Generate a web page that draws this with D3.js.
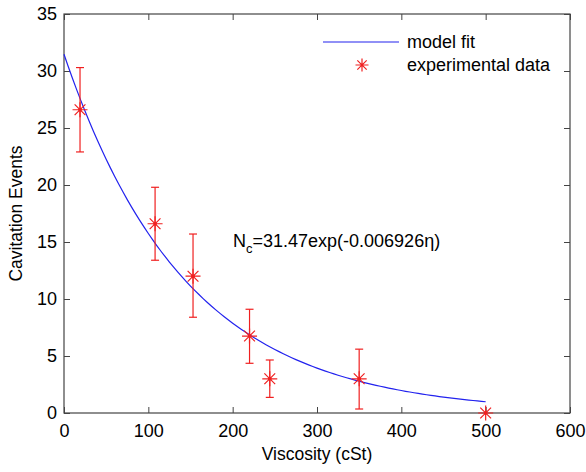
<!DOCTYPE html>
<html>
<head>
<meta charset="utf-8">
<script src="https://cdn.jsdelivr.net/npm/d3@7"></script>
<style>
  body { margin: 0; background: #fff; }
  text { font-family: "Liberation Sans", Arial, sans-serif; fill: #000; }
</style>
</head>
<body>
<div id="chart"></div>
<script>
// values
const viscosity = [19, 108, 153, 220, 244, 350, 500];
const events    = [26.6, 16.6, 12.0, 6.75, 3.0, 3.0, 0];
const errLow    = [22.9, 13.4, 8.4, 4.36, 1.37, 0.35, null];
const errHigh   = [30.3, 19.8, 15.7, 9.1, 4.65, 5.6, null];
const xTicks = [0, 100, 200, 300, 400, 500, 600];
const yTicks = [0, 5, 10, 15, 20, 25, 30, 35];
// fit parameters from the annotation
const fitA = 31.47, fitB = -0.006926;
const fitX = d3.range(0, 501, 5);

const width = 586, height = 472;
const margin = {top: 14, right: 16, bottom: 59, left: 64};

const svg = d3.select("#chart").append("svg")
    .attr("width", width)
    .attr("height", height);

const x = d3.scaleLinear().domain([0, 600]).range([margin.left, width - margin.right]);
const y = d3.scaleLinear().domain([0, 35]).range([height - margin.bottom, margin.top]);

const axisColor = "#444";

// frame
svg.append("rect")
    .attr("x", x(0)).attr("y", y(35))
    .attr("width", x(600) - x(0)).attr("height", y(0) - y(35))
    .attr("fill", "none").attr("stroke", axisColor).attr("stroke-width", 1.2);

function styleAxis(g) {
    g.select(".domain").remove();
    g.selectAll(".tick line").attr("stroke", axisColor);
    g.selectAll(".tick text").style("font-size", "18px").attr("fill", "#000");
}

svg.append("g")
    .attr("transform", `translate(0,${y(0)})`)
    .call(d3.axisBottom(x).tickValues(xTicks).tickSize(-6).tickPadding(11))
    .call(styleAxis);
svg.append("g")
    .attr("transform", `translate(0,${y(35)})`)
    .call(d3.axisTop(x).tickValues(xTicks).tickSize(-6).tickFormat(""))
    .call(styleAxis);
svg.append("g")
    .attr("transform", `translate(${x(0)},0)`)
    .call(d3.axisLeft(y).tickValues(yTicks).tickSize(-6).tickPadding(7))
    .call(styleAxis);
svg.append("g")
    .attr("transform", `translate(${x(600)},0)`)
    .call(d3.axisRight(y).tickValues(yTicks).tickSize(-6).tickFormat(""))
    .call(styleAxis);

// axis labels
svg.append("text")
    .attr("x", (x(0) + x(600)) / 2).attr("y", 460)
    .attr("text-anchor", "middle").style("font-size", "17.5px")
    .text("Viscosity (cSt)");
svg.append("text")
    .attr("transform", `translate(22,${(y(0) + y(35)) / 2}) rotate(-90)`)
    .attr("text-anchor", "middle").style("font-size", "17.5px")
    .text("Cavitation Events");

// model fit
const line = d3.line().x(d => x(d)).y(d => y(fitA * Math.exp(fitB * d)));
svg.append("path")
    .datum(fitX)
    .attr("d", line)
    .attr("fill", "none")
    .attr("stroke", "#2222ee")
    .attr("stroke-width", 1.2);

const red = "#f02020";
const data = viscosity.map((v, i) => ({v, n: events[i], lo: errLow[i], hi: errHigh[i]}));

// error bars
const eb = svg.append("g").attr("stroke", red).attr("stroke-width", 1.2);
data.filter(d => d.lo != null).forEach(d => {
    eb.append("line").attr("x1", x(d.v)).attr("x2", x(d.v)).attr("y1", y(d.lo)).attr("y2", y(d.hi));
    eb.append("line").attr("x1", x(d.v) - 4).attr("x2", x(d.v) + 4).attr("y1", y(d.lo)).attr("y2", y(d.lo));
    eb.append("line").attr("x1", x(d.v) - 4).attr("x2", x(d.v) + 4).attr("y1", y(d.hi)).attr("y2", y(d.hi));
});

// asterisk markers
function star(g, cx, cy, r) {
    const k = r * 0.72;
    g.append("path")
        .attr("d", `M${cx - r},${cy}H${cx + r}M${cx},${cy - r}V${cy + r}` +
                   `M${cx - k},${cy - k}L${cx + k},${cy + k}M${cx - k},${cy + k}L${cx + k},${cy - k}`)
        .attr("stroke", red).attr("stroke-width", 1.2).attr("fill", "none");
}
const pts = svg.append("g");
data.forEach(d => {
    star(pts, x(d.v), y(d.n), 7.5);
    pts.append("circle").attr("cx", x(d.v)).attr("cy", y(d.n)).attr("r", 1.8).attr("fill", red);
});

// equation annotation
const eq = svg.append("text").attr("x", 233).attr("y", 247).style("font-size", "18px");
eq.append("tspan").text("N");
eq.append("tspan").attr("dy", 6).style("font-size", "13px").text("c");
eq.append("tspan").attr("dy", -6).text("=31.47exp(-0.006926η)");

// legend
svg.append("line")
    .attr("x1", 323).attr("x2", 399).attr("y1", 42).attr("y2", 42)
    .attr("stroke", "#2222ee").attr("stroke-width", 1.2);
svg.append("text").attr("x", 407).attr("y", 48).style("font-size", "18px").text("model fit");
star(svg, 362, 65, 6.5);
svg.append("text").attr("x", 407).attr("y", 71).style("font-size", "18px").text("experimental data");
</script>
</body>
</html>
